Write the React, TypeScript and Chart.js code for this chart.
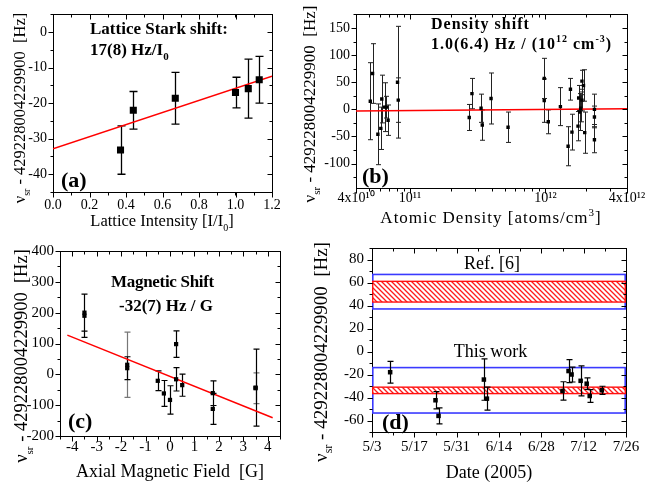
import React, { useEffect, useRef } from 'react';
import { Chart, registerables } from 'chart.js';
Chart.register(...registerables);

const SERIF = '"Liberation Serif", "Times New Roman", Times, serif';
const W = 700;
const H = 483;

// ---------- (a) Lattice Stark shift ----------
const latticeIntensity = [0.37, 0.44, 0.67, 1.0, 1.07, 1.13];
const latticeShift = [-33.2, -22, -18.6, -17, -15.9, -13.4];
const latticeErr = [6.8, 5.3, 7.3, 4.3, 8.3, 6.6];
const latticeFitX = [0, 1.2];
const latticeFitY = [-32.8, -12.4];
const latticeXTicks = [0, 0.2, 0.4, 0.6, 0.8, 1.0, 1.2];
const latticeYTicks = [-40, -30, -20, -10, 0];

// ---------- (b) Density shift ----------
const density = [
  5.1e10, 5.3e10, 5.8e10, 6.2e10, 6.1e10, 6.5e10, 6.7e10, 6.9e10, 8.1e10, 8.2e10,
  2.74e11, 2.87e11, 3.35e11, 3.42e11, 3.97e11, 5.3e11,
  9.8e11, 9.8e11, 1.05e12, 1.29e12, 1.47e12, 1.53e12, 1.57e12, 1.74e12, 1.76e12,
  1.79e12, 1.82e12, 1.86e12, 1.91e12, 1.95e12, 1.86e12, 2.3e12, 2.3e12, 2.3e12,
];
const densityShift = [
  15, 66, -46, 19, -35, 4, 4, -20, 50, 17,
  -15, 29, 2, -29, 20, -33,
  57, 16, -23, 5, -68, 37, -42, -31, 21,
  -5, 2, 52, 44, -43, 17, 0, -14, -56,
];
const densityErr = [
  71, 55, 56, 44, 39, 45, 20, 28, 103, 41,
  24, 28, 26, 28, 47, 28,
  37, 40, 22, 35, 36, 20, 33, 27, 23,
  34, 25, 20, 29, 38, 20, 28, 20, 24,
];
const densityFitX = [4e10, 4e12];
const densityFitY = [-3, 1];
const densityTickValues = [4e10, 1e11, 1e12, 4e12];
const densityTickLabels = ['4x10\u00b9\u2070', '10\u00b9\u00b9', '10\u00b9\u00b2', '4x10\u00b9\u00b2'];
const densityYTicks = [-100, -50, 0, 50, 100, 150];

// ---------- (c) Magnetic shift ----------
const fieldMain = [-3.5, -3.5, -1.75, -0.5, -0.25, 0, 0.25, 0.25, 0.5, 1.75, 1.75, 3.5];
const shiftMain = [200, 190, 20, -21, -62, -83, 98, -16, -35, -61, -112, -43];
const errMain = [60, 70, 37, 32, 42, 46, 43, 38, 36, 40, 50, 125];
const fieldGray = [-1.75, 3.5];
const shiftGray = [31, -45];
const errGray = [106, 50];
const magFitX = [-4.2, 4.2];
const magFitY = [127, -141];
const magXTicks = [-4, -3, -2, -1, 0, 1, 2, 3, 4];
const magYTicks = [-200, -100, 0, 100, 200, 300, 400];

// ---------- (d) Date ----------
const runDates = ['5/9', '5/24', '5/25', '6/9', '6/10', '7/5', '7/7', '7/8', '7/11', '7/13', '7/14', '7/18'];
const runShift = [-18, -42.4, -56, -24.4, -41, -34.3, -17, -20, -25.5, -28, -38.7, -33.7];
const runErr = [9.5, 7.5, 7, 18, 10, 8, 10, 6.5, 13, 5, 5.5, 3.5];
const refBox = [37, 67];
const refBand = [43, 61];
const thisBox = [-53.5, -14];
const thisBand = [-36.6, -31];
const dateTickLabels = ['5/3', '5/17', '5/31', '6/14', '6/28', '7/12', '7/26'];
const dateYTicks = [-60, -40, -20, 0, 20, 40, 60, 80];

function dayOf(s: string): number {
  const [m, d] = s.split('/').map(Number);
  return (Date.UTC(2005, m - 1, d) - Date.UTC(2005, 4, 3)) / 86400000;
}

type Part = { t: string; s?: 'sub' | 'sup' };

function drawRich(
  ctx: CanvasRenderingContext2D,
  parts: Part[],
  x: number,
  y: number,
  size: number,
  opts: { bold?: boolean; align?: 'left' | 'center'; spacing?: number } = {}
) {
  const weight = opts.bold ? 'bold ' : '';
  const small = Math.round(size * 0.62);
  const c: any = ctx;
  c.letterSpacing = (opts.spacing ?? 0) + 'px';
  let total = 0;
  const widths = parts.map((p) => {
    ctx.font = `${weight}${p.s ? small : size}px ${SERIF}`;
    const w = ctx.measureText(p.t).width;
    total += w;
    return w;
  });
  let cx = opts.align === 'center' ? x - total / 2 : x;
  ctx.textAlign = 'left';
  ctx.textBaseline = 'alphabetic';
  ctx.fillStyle = '#000';
  parts.forEach((p, i) => {
    ctx.font = `${weight}${p.s ? small : size}px ${SERIF}`;
    const dy = p.s === 'sub' ? size * 0.3 : p.s === 'sup' ? -size * 0.42 : 0;
    ctx.fillText(p.t, cx, y + dy);
    cx += widths[i];
  });
  c.letterSpacing = '0px';
}

function drawYTitle(ctx: CanvasRenderingContext2D, bx: number, cy: number, size: number) {
  ctx.save();
  ctx.translate(bx, cy);
  ctx.rotate(-Math.PI / 2);
  drawRich(ctx, [{ t: '\u03bd' }, { t: 'sr', s: 'sub' }, { t: ' - 429228004229900  [Hz]' }], 0, 0, size, {
    align: 'center',
  });
  ctx.restore();
}

type ErrSet = { x: number[]; y: number[]; e: number[]; color: string; cap: number; width: number };

type PanelOpts = {
  errSets: ErrSet[];
  xMinor: number | 'log';
  yMinor: number;
  bands?: (ctx: CanvasRenderingContext2D, chart: any) => void;
  texts: (ctx: CanvasRenderingContext2D) => void;
};

function minorValues(min: number, max: number, step: number | 'log'): number[] {
  const out: number[] = [];
  if (step === 'log') {
    for (let ex = Math.floor(Math.log10(min)); ex <= Math.ceil(Math.log10(max)); ex++) {
      for (let k = 1; k <= 9; k++) {
        const v = k * Math.pow(10, ex);
        if (v >= min * 0.999 && v <= max * 1.001) out.push(v);
      }
    }
    return out;
  }
  const start = Math.ceil(min / step - 1e-9) * step;
  for (let v = start; v <= max + 1e-9; v += step) out.push(v);
  return out;
}

function panelPlugin(o: PanelOpts) {
  return {
    id: 'panel',
    beforeDatasetsDraw(chart: any) {
      const ctx: CanvasRenderingContext2D = chart.ctx;
      const a = chart.chartArea;
      const xs = chart.scales.x;
      const ys = chart.scales.y;
      ctx.save();
      ctx.strokeStyle = '#000';
      ctx.lineWidth = 1;
      ctx.strokeRect(Math.round(a.left) + 0.5, Math.round(a.top) + 0.5, Math.round(a.right - a.left), Math.round(a.bottom - a.top));
      ctx.beginPath();
      ctx.rect(a.left, a.top, a.right - a.left, a.bottom - a.top);
      ctx.clip();
      if (o.bands) o.bands(ctx, chart);
      for (const s of o.errSets) {
        ctx.strokeStyle = s.color;
        ctx.lineWidth = s.width;
        ctx.beginPath();
        s.x.forEach((xv, i) => {
          const px = Math.round(xs.getPixelForValue(xv)) + 0.5;
          const t = ys.getPixelForValue(s.y[i] + s.e[i]);
          const b = ys.getPixelForValue(s.y[i] - s.e[i]);
          ctx.moveTo(px, t);
          ctx.lineTo(px, b);
          ctx.moveTo(px - s.cap, t);
          ctx.lineTo(px + s.cap, t);
          ctx.moveTo(px - s.cap, b);
          ctx.lineTo(px + s.cap, b);
        });
        ctx.stroke();
      }
      ctx.restore();
    },
    afterDraw(chart: any) {
      const ctx: CanvasRenderingContext2D = chart.ctx;
      const a = chart.chartArea;
      const xs = chart.scales.x;
      const ys = chart.scales.y;
      const L = Math.round(a.left) + 0.5;
      const R = Math.round(a.right) + 0.5;
      const T = Math.round(a.top) + 0.5;
      const B = Math.round(a.bottom) + 0.5;
      ctx.save();
      ctx.strokeStyle = '#000';
      ctx.lineWidth = 1;
      ctx.beginPath();
      const xMajor = xs.ticks.map((t: any) => t.value);
      const yMajor = ys.ticks.map((t: any) => t.value);
      const xTick = (v: number, len: number) => {
        const px = Math.round(xs.getPixelForValue(v)) + 0.5;
        ctx.moveTo(px, B);
        ctx.lineTo(px, B + len);
        ctx.moveTo(px, T);
        ctx.lineTo(px, T + len);
      };
      const yTick = (v: number, len: number) => {
        const py = Math.round(ys.getPixelForValue(v)) + 0.5;
        ctx.moveTo(L, py);
        ctx.lineTo(L - len, py);
        ctx.moveTo(R, py);
        ctx.lineTo(R - len, py);
      };
      minorValues(xs.min, xs.max, o.xMinor).forEach((v) => xTick(v, 3));
      xMajor.forEach((v: number) => xTick(v, 5));
      minorValues(ys.min, ys.max, o.yMinor).forEach((v) => yTick(v, 3));
      yMajor.forEach((v: number) => yTick(v, 5));
      ctx.stroke();
      o.texts(ctx);
      ctx.restore();
    },
  };
}

function baseScale(tickSize: number, padding: number) {
  return {
    grid: { display: false, drawTicks: false },
    border: { display: false },
    ticks: {
      font: { family: SERIF, size: tickSize },
      color: '#000',
      padding,
      maxRotation: 0,
      autoSkip: false,
    },
  };
}

function makeChart(canvas: HTMLCanvasElement, area: number[], xScale: any, yScale: any, datasets: any[], plugin: any) {
  const [L, T, R, B] = area;
  const yw = 40;
  const xh = 30;
  return new Chart(canvas, {
    type: 'scatter',
    data: { datasets },
    options: {
      animation: false,
      responsive: false,
      devicePixelRatio: 1,
      events: [],
      layout: { autoPadding: false, padding: { left: L - yw, top: T, right: W - R, bottom: H - B - xh } },
      plugins: { legend: { display: false }, tooltip: { enabled: false } },
      scales: {
        x: { ...xScale, afterFit: (s: any) => { s.height = xh; } },
        y: { ...yScale, afterFit: (s: any) => { s.width = yw; } },
      },
    } as any,
    plugins: [plugin],
  });
}

function pts(xs: number[], ys: number[]) {
  return xs.map((x, i) => ({ x, y: ys[i] }));
}

function fitLine(xs: number[], ys: number[], width: number) {
  return {
    data: pts(xs, ys),
    showLine: true,
    borderColor: '#ff0000',
    borderWidth: width,
    pointRadius: 0,
    fill: false,
  };
}

function markers(xs: number[], ys: number[], r: number) {
  return {
    data: pts(xs, ys),
    pointStyle: 'rect',
    pointRadius: r,
    backgroundColor: '#000',
    borderColor: '#000',
    borderWidth: 0,
    showLine: false,
  };
}

export default function App() {
  const ra = useRef<HTMLCanvasElement>(null);
  const rb = useRef<HTMLCanvasElement>(null);
  const rc = useRef<HTMLCanvasElement>(null);
  const rd = useRef<HTMLCanvasElement>(null);

  useEffect(() => {
    const charts: Chart[] = [];

    // (a)
    {
      const xS: any = baseScale(14, 5);
      xS.type = 'linear';
      xS.min = 0;
      xS.max = 1.2;
      xS.afterBuildTicks = (s: any) => { s.ticks = latticeXTicks.map((v) => ({ value: v })); };
      xS.ticks.callback = (v: number) => v.toFixed(1);
      const yS: any = baseScale(14, 6);
      yS.min = -45;
      yS.max = 5;
      yS.afterBuildTicks = (s: any) => { s.ticks = latticeYTicks.map((v) => ({ value: v })); };
      yS.ticks.callback = (v: number) => String(v);
      const plugin = panelPlugin({
        errSets: [{ x: latticeIntensity, y: latticeShift, e: latticeErr, color: '#000', cap: 4, width: 1.3 }],
        xMinor: 0.1,
        yMinor: 5,
        texts: (ctx) => {
          drawYTitle(ctx, 25, 108, 16.5);
          drawRich(ctx, [{ t: 'Lattice Intensity [I/I' }, { t: '0', s: 'sub' }, { t: ']' }], 162, 226, 16.5, { align: 'center' });
          drawRich(ctx, [{ t: 'Lattice Stark shift:' }], 90, 34, 17, { bold: true });
          drawRich(ctx, [{ t: '17(8) Hz/I' }, { t: '0', s: 'sub' }], 90, 55, 17, { bold: true });
          drawRich(ctx, [{ t: '(a)' }], 61, 187, 22, { bold: true });
        },
      });
      charts.push(
        makeChart(ra.current!, [53, 14, 272, 192], xS, yS, [
          markers(latticeIntensity, latticeShift, 5),
          fitLine(latticeFitX, latticeFitY, 1.5),
        ], plugin)
      );
    }

    // (b)
    {
      const xS: any = baseScale(14, 2);
      xS.type = 'logarithmic';
      xS.min = 4e10;
      xS.max = 4e12;
      xS.afterBuildTicks = (s: any) => { s.ticks = densityTickValues.map((v) => ({ value: v })); };
      xS.ticks.callback = (v: number) => {
        const i = densityTickValues.findIndex((t) => Math.abs(t - v) / t < 1e-6);
        return i >= 0 ? densityTickLabels[i] : '';
      };
      const yS: any = baseScale(14, 6);
      yS.min = -145;
      yS.max = 175;
      yS.afterBuildTicks = (s: any) => { s.ticks = densityYTicks.map((v) => ({ value: v })); };
      yS.ticks.callback = (v: number) => String(v);
      const plugin = panelPlugin({
        errSets: [{ x: density, y: densityShift, e: densityErr, color: '#222', cap: 2.5, width: 1 }],
        xMinor: 'log',
        yMinor: 25,
        texts: (ctx) => {
          drawYTitle(ctx, 315, 104, 17);
          drawRich(ctx, [{ t: 'Atomic Density [atoms/cm' }, { t: '3', s: 'sup' }, { t: ']' }], 491, 223, 17, {
            align: 'center',
            spacing: 1,
          });
          drawRich(ctx, [{ t: 'Density shift' }], 431, 29, 16, { bold: true, spacing: 1 });
          drawRich(
            ctx,
            [{ t: '1.0(6.4) Hz / (10' }, { t: '12', s: 'sup' }, { t: ' cm' }, { t: '-3', s: 'sup' }, { t: ')' }],
            431,
            49,
            16,
            { bold: true, spacing: 1 }
          );
          drawRich(ctx, [{ t: '(b)' }], 362, 183, 22, { bold: true });
        },
      });
      charts.push(
        makeChart(rb.current!, [356, 14, 627, 188], xS, yS, [
          markers(density, densityShift, 2.4),
          fitLine(densityFitX, densityFitY, 1.5),
        ], plugin)
      );
    }

    // (c)
    {
      const xS: any = baseScale(15, 2);
      xS.type = 'linear';
      xS.min = -4.5;
      xS.max = 4.5;
      xS.afterBuildTicks = (s: any) => { s.ticks = magXTicks.map((v) => ({ value: v })); };
      xS.ticks.callback = (v: number) => String(v);
      const yS: any = baseScale(15, 6);
      yS.min = -200;
      yS.max = 400;
      yS.afterBuildTicks = (s: any) => { s.ticks = magYTicks.map((v) => ({ value: v })); };
      yS.ticks.callback = (v: number) => String(v);
      const plugin = panelPlugin({
        errSets: [
          { x: fieldGray, y: shiftGray, e: errGray, color: '#777', cap: 3, width: 1.2 },
          { x: fieldMain, y: shiftMain, e: errMain, color: '#000', cap: 3, width: 1.2 },
        ],
        xMinor: 0.5,
        yMinor: 50,
        texts: (ctx) => {
          drawYTitle(ctx, 27, 356, 18.5);
          drawRich(ctx, [{ t: 'Axial Magnetic Field  [G]' }], 170, 477, 18, { align: 'center' });
          drawRich(ctx, [{ t: 'Magnetic Shift' }], 111, 287, 17, { bold: true, spacing: -0.3 });
          drawRich(ctx, [{ t: '-32(7) Hz / G' }], 119, 311, 17, { bold: true });
          drawRich(ctx, [{ t: '(c)' }], 68, 428, 22, { bold: true });
        },
      });
      charts.push(
        makeChart(rc.current!, [60, 251, 280, 436], xS, yS, [
          markers(fieldMain, shiftMain, 3),
          markers(fieldGray, shiftGray, 3),
          fitLine(magFitX, magFitY, 1.5),
        ], plugin)
      );
    }

    // (d)
    {
      const dateTickValues = dateTickLabels.map(dayOf);
      const runDays = runDates.map(dayOf);
      const xS: any = baseScale(15, 6);
      xS.type = 'linear';
      xS.min = dateTickValues[0];
      xS.max = dateTickValues[dateTickValues.length - 1];
      xS.afterBuildTicks = (s: any) => { s.ticks = dateTickValues.map((v) => ({ value: v })); };
      xS.ticks.callback = (v: number) => {
        const i = dateTickValues.indexOf(v);
        return i >= 0 ? dateTickLabels[i] : '';
      };
      const yS: any = baseScale(15, 8);
      yS.min = -70;
      yS.max = 90;
      yS.afterBuildTicks = (s: any) => { s.ticks = dateYTicks.map((v) => ({ value: v })); };
      yS.ticks.callback = (v: number) => String(v);

      let pattern: CanvasPattern | null = null;
      const plugin = panelPlugin({
        errSets: [{ x: runDays, y: runShift, e: runErr, color: '#000', cap: 3, width: 1.2 }],
        xMinor: 7,
        yMinor: 10,
        bands: (ctx, chart) => {
          const a = chart.chartArea;
          const ys = chart.scales.y;
          if (!pattern) {
            const n = 5;
            const pc = document.createElement('canvas');
            pc.width = n;
            pc.height = n;
            const p = pc.getContext('2d')!;
            p.fillStyle = '#fff';
            p.fillRect(0, 0, n, n);
            p.strokeStyle = '#ff1a1a';
            p.lineWidth = 1.3;
            p.beginPath();
            p.moveTo(-1, -1);
            p.lineTo(n + 1, n + 1);
            p.moveTo(-1, n - 1);
            p.lineTo(1, n + 1);
            p.moveTo(n - 1, -1);
            p.lineTo(n + 1, 1);
            p.stroke();
            pattern = ctx.createPattern(pc, 'repeat');
          }
          const rectFor = (range: number[]) => {
            const t = ys.getPixelForValue(range[1]);
            const b = ys.getPixelForValue(range[0]);
            return [a.left, t, a.right - a.left, b - t];
          };
          for (const box of [refBox, thisBox]) {
            const [x, y, w, h] = rectFor(box);
            ctx.strokeStyle = '#3a3aff';
            ctx.lineWidth = 1.6;
            ctx.strokeRect(x + 0.8, y, w - 1.6, h);
          }
          for (const band of [refBand, thisBand]) {
            const [x, y, w, h] = rectFor(band);
            ctx.fillStyle = pattern as any;
            ctx.fillRect(x, y, w, h);
            ctx.strokeStyle = '#ff1010';
            ctx.lineWidth = 1.4;
            ctx.strokeRect(x + 0.7, y, w - 1.4, h);
          }
        },
        texts: (ctx) => {
          drawYTitle(ctx, 326.5, 352, 19);
          drawRich(ctx, [{ t: 'Date (2005)' }], 489, 478, 18, { align: 'center' });
          drawRich(ctx, [{ t: 'Ref. [6]' }], 492, 269, 18, { align: 'center' });
          drawRich(ctx, [{ t: 'This work' }], 490.5, 357, 18, { align: 'center' });
          drawRich(ctx, [{ t: '(d)' }], 382, 429, 22, { bold: true });
        },
      });
      charts.push(
        makeChart(rd.current!, [372, 248, 626, 432], xS, yS, [markers(runDays, runShift, 3.2)], plugin)
      );
    }

    return () => charts.forEach((c) => c.destroy());
  }, []);

  const cs: React.CSSProperties = { position: 'absolute', left: 0, top: 0, width: W, height: H };
  return (
    <div
      style={{
        position: 'absolute',
        left: 0,
        top: 0,
        width: 646,
        height: 483,
        overflow: 'hidden',
        background: '#fff',
      }}
    >
      <canvas ref={ra} width={W} height={H} style={cs} />
      <canvas ref={rb} width={W} height={H} style={cs} />
      <canvas ref={rc} width={W} height={H} style={cs} />
      <canvas ref={rd} width={W} height={H} style={cs} />
    </div>
  );
}
